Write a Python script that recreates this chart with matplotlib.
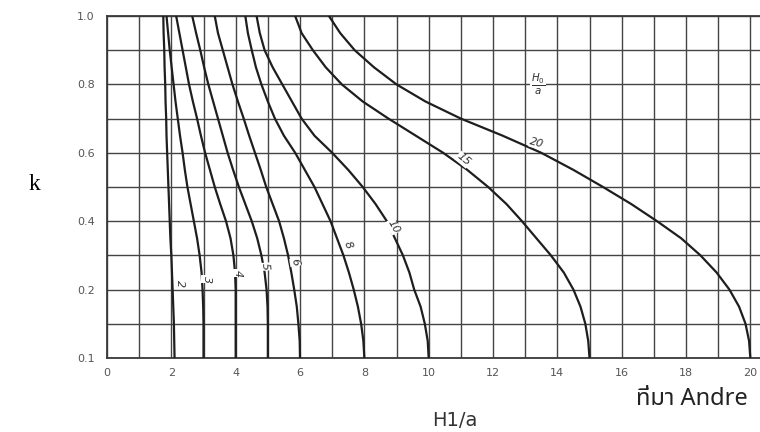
import matplotlib.pyplot as plt
import numpy as np

# k levels (position on the chart, the bottom line is labelled 0.1)
k_levels = [1.0, 0.95, 0.9, 0.85, 0.8, 0.75, 0.7, 0.65, 0.6, 0.55, 0.5,
            0.45, 0.4, 0.35, 0.3, 0.25, 0.2, 0.15, 0.1, 0.05, 0.0]

curve_names = ['2', '3', '4', '5', '6', '8', '10', '15', '20']
x_2 = [1.75, 1.76, 1.78, 1.79, 1.81, 1.82, 1.84, 1.85, 1.87, 1.89, 1.91,
       1.93, 1.95, 1.97, 2.0, 2.02, 2.04, 2.06, 2.08, 2.09, 2.1]
x_3 = [1.85, 1.9, 1.95, 2.01, 2.07, 2.13, 2.2, 2.27, 2.35, 2.42, 2.5,
       2.6, 2.7, 2.8, 2.88, 2.94, 2.97, 2.99, 3.0, 3.0, 3.0]
x_4 = [2.15, 2.25, 2.35, 2.45, 2.55, 2.67, 2.8, 2.92, 3.05, 3.2, 3.35,
       3.52, 3.7, 3.84, 3.93, 3.98, 4.0, 4.0, 4.0, 4.0, 4.0]
x_5 = [2.65, 2.77, 2.9, 3.02, 3.15, 3.3, 3.45, 3.6, 3.75, 3.92, 4.1,
       4.3, 4.5, 4.67, 4.8, 4.9, 4.96, 4.99, 5.0, 5.0, 5.0]
x_6 = [3.35, 3.45, 3.6, 3.75, 3.9, 4.07, 4.25, 4.42, 4.6, 4.78, 4.95,
       5.15, 5.35, 5.5, 5.63, 5.73, 5.82, 5.9, 5.95, 5.99, 6.0]
x_8 = [4.3, 4.38, 4.5, 4.63, 4.8, 5.0, 5.22, 5.5, 5.85, 6.15, 6.45,
       6.7, 6.95, 7.15, 7.35, 7.52, 7.67, 7.8, 7.9, 7.97, 8.0]
x_10 = [4.65, 4.75, 4.9, 5.15, 5.45, 5.75, 6.05, 6.45, 7.0, 7.5, 7.95,
        8.35, 8.7, 8.95, 9.2, 9.4, 9.55, 9.75, 9.88, 9.97, 10.0]
x_15 = [5.85, 6.05, 6.4, 6.8, 7.3, 7.95, 8.75, 9.6, 10.45, 11.2, 11.85,
        12.42, 12.9, 13.35, 13.8, 14.2, 14.5, 14.72, 14.87, 14.96, 15.0]
x_20 = [6.9, 7.25, 7.7, 8.3, 9.0, 9.9, 11.0, 12.3, 13.5, 14.5, 15.42,
        16.3, 17.1, 17.85, 18.45, 18.95, 19.35, 19.65, 19.85, 19.96, 20.0]
curves = [x_2, x_3, x_4, x_5, x_6, x_8, x_10, x_15, x_20]

# where the curve numbers sit (x, k, rotation)
label_x = [2.27, 3.1, 4.08, 4.91, 5.85, 7.5, 8.9, 11.08, 13.37]
label_k = [0.218, 0.23, 0.248, 0.267, 0.28, 0.33, 0.385, 0.58, 0.628]
label_rot = [-90, -90, -90, -85, -80, -65, -60, -40, -15]

x_ticks = [0, 2, 4, 6, 8, 10, 12, 14, 16, 18, 20]
y_ticks = [0.0, 0.2, 0.4, 0.6, 0.8, 1.0]
y_tick_labels = ['0.1', '0.2', '0.4', '0.6', '0.8', '1.0']

fig = plt.figure(figsize=(7.6, 4.32), dpi=100)
ax = fig.add_axes([107/760, 74/432, 653/760, 342/432])

# grid every 1 unit / 0.1
for xv in range(0, 21):
    ax.axvline(xv, color='#444444', lw=1.0, zorder=1)
for yv in np.arange(0, 11) / 10:
    ax.axhline(yv, color='#444444', lw=1.0, zorder=1)

for xs in curves:
    ax.plot(xs, k_levels, color='#1e1e1e', lw=1.6, zorder=3)

for name, lx, lk, r in zip(curve_names, label_x, label_k, label_rot):
    ax.text(lx, lk, name, fontsize=8, color='#333333', rotation=r,
            ha='center', va='center', fontstyle='italic',
            bbox=dict(facecolor='white', edgecolor='none', pad=0.3), zorder=4)

ax.text(13.4, 0.8, r'$\frac{H_0}{a}$', fontsize=10.5, color='#333333',
        ha='center', va='center',
        bbox=dict(facecolor='white', edgecolor='none', pad=0.5), zorder=4)

ax.set_xlim(0, 20.3)
ax.set_ylim(0, 1.0)
ax.set_xticks(x_ticks)
ax.set_yticks(y_ticks)
ax.set_yticklabels(y_tick_labels)
ax.tick_params(length=0, labelsize=8, labelcolor='#555555')
ax.tick_params(axis='x', pad=7)
ax.tick_params(axis='y', pad=9)
ax.spines['right'].set_visible(False)
for s in ['left', 'bottom', 'top']:
    ax.spines[s].set_color('#3a3a3a')
    ax.spines[s].set_linewidth(1.3)

fig.text(34/760, 1 - 184/432, 'k', fontsize=17, family='Liberation Serif',
         ha='center', va='center')
fig.text(455/760, 1 - 421/432, 'H1/a', fontsize=14, color='#333333',
         ha='center', va='center')
fig.text(636/760, 1 - 405/432, 'ที่มา Andre', fontsize=17, color='#222222',
         family=['Noto Sans Thai', 'Loma', 'Garuda', 'DejaVu Sans'],
         ha='left', va='baseline')

fig.savefig('out.png', dpi=100)
